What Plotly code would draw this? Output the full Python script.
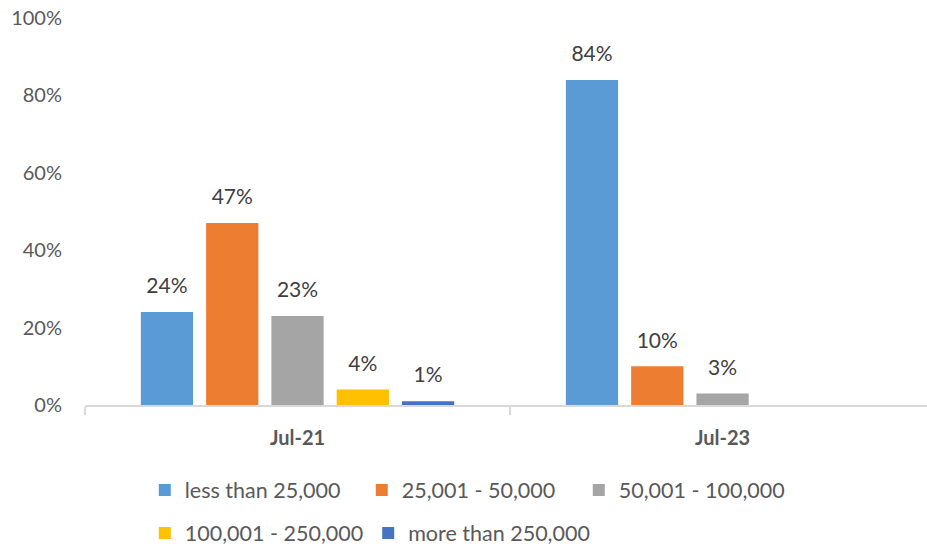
import plotly.graph_objects as go

# Survey periods and income bands
periods = ["Jul-21", "Jul-23"]
bands = ["less than 25,000", "25,001 - 50,000", "50,001 - 100,000",
         "100,001 - 250,000", "more than 250,000"]

# Share of respondents per band (fraction), None where no value was reported
less_25k = [0.24, 0.84]
from_25k_50k = [0.47, 0.10]
from_50k_100k = [0.23, 0.03]
from_100k_250k = [0.04, None]
more_250k = [0.01, None]
series = [less_25k, from_25k_50k, from_50k_100k, from_100k_250k, more_250k]

colors = ["#5B9BD5", "#ED7D31", "#A5A5A5", "#FFC000", "#4472C4"]
legend_ids = ["legend", "legend", "legend", "legend2", "legend2"]

FONT = "Lato"
TEXT_GREY = "#595959"
GAP = 0.232

fig = go.Figure()
for name, vals, col, lg in zip(bands, series, colors, legend_ids):
    fig.add_trace(go.Bar(
        name=name,
        x=periods,
        y=vals,
        marker=dict(color=col, line=dict(width=0)),
        legend=lg,
        hoverinfo="skip",
    ))

# Value labels: grouped scatter text sitting above each bar, with an
# invisible marker providing the padding between bar top and label
for name, vals in zip(bands, series):
    fig.add_trace(go.Scatter(
        x=periods,
        y=vals,
        mode="markers+text",
        text=[None if v is None else f"{v:.0%}" for v in vals],
        textposition="top center",
        textfont=dict(family=FONT, size=21, color="#404040"),
        marker=dict(size=20, color="rgba(0,0,0,0)"),
        showlegend=False,
        cliponaxis=False,
        hoverinfo="skip",
    ))

legend_common = dict(
    orientation="h",
    xanchor="left",
    yanchor="middle",
    x=0.071,
    font=dict(family=FONT, size=21.5, color=TEXT_GREY),
    bgcolor="rgba(0,0,0,0)",
    traceorder="normal",
)

fig.update_layout(
    width=927,
    height=546,
    margin=dict(l=85, r=0, t=18, b=141, autoexpand=False),
    paper_bgcolor="white",
    plot_bgcolor="white",
    barmode="group",
    bargap=GAP,
    bargroupgap=0.2,
    scattermode="group",
    scattergap=GAP,
    showlegend=True,
    legend=dict(legend_common, y=-0.2196, entrywidth=172, entrywidthmode="pixels"),
    legend2=dict(legend_common, y=-0.3307),
    xaxis=dict(
        type="category",
        range=[-0.5, 1.481],
        showline=True,
        linecolor="#D9D9D9",
        linewidth=1.5,
        ticks="outside",
        tickson="boundaries",
        ticklen=8,
        tickcolor="#D9D9D9",
        tickwidth=1.5,
        ticklabelstandoff=14,
        tickfont=dict(family=FONT, size=20, color=TEXT_GREY, weight="bold"),
        showgrid=False,
        zeroline=False,
    ),
    yaxis=dict(
        range=[0, 1],
        dtick=0.2,
        tickformat=".0%",
        showgrid=False,
        zeroline=False,
        showline=False,
        ticks="",
        ticklabelstandoff=22,
        tickfont=dict(family=FONT, size=20, color=TEXT_GREY),
    ),
)

fig.write_html("out.html")
